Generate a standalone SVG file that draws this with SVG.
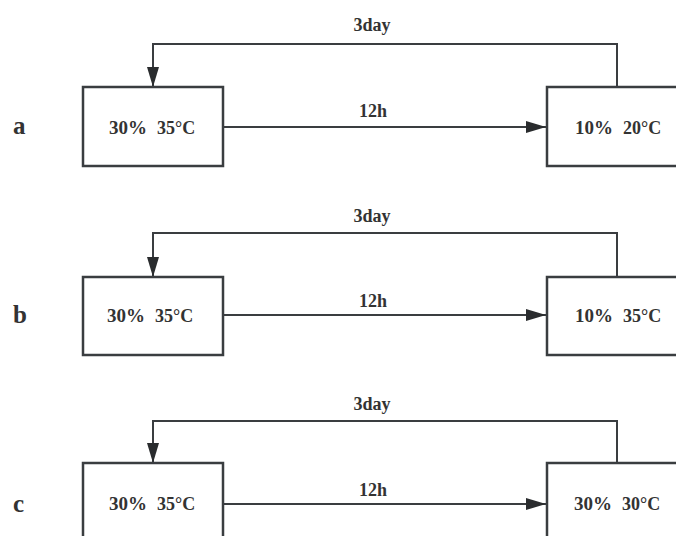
<svg xmlns="http://www.w3.org/2000/svg" width="676" height="536" viewBox="0 0 676 536">
<style>
.box{fill:#fff;stroke:#3a3d40;stroke-width:2.5}
.ln{fill:none;stroke:#3a3d40;stroke-width:2}
.t{font-family:"Liberation Serif","Times New Roman",serif;font-weight:bold;fill:#333}
.big{font-size:19px}
.sm{font-size:18px}
.lbl{font-size:18px;text-anchor:middle}
.row{font-size:25px}
</style>
<defs>
<marker id="ah" viewBox="0 0 20 12" refX="20" refY="6" markerWidth="20" markerHeight="12" markerUnits="userSpaceOnUse" orient="auto">
<path d="M0,0 L20,6 L0,12 Z" fill="#2a2c2e"/>
</marker>
</defs>
<rect width="676" height="536" fill="#fff"/>
<g id="connectors">
<path class="ln" d="M617,87 V44 H153 V87" marker-end="url(#ah)"/>
<path class="ln" d="M224,127 H546" marker-end="url(#ah)"/>
<path class="ln" d="M617,277 V233 H153 V277" marker-end="url(#ah)"/>
<path class="ln" d="M224,315 H546" marker-end="url(#ah)"/>
<path class="ln" d="M617,463 V421 H153 V463" marker-end="url(#ah)"/>
<path class="ln" d="M224,504 H546" marker-end="url(#ah)"/>
</g>
<g id="labels">
<text class="t lbl" x="372" y="31">3day</text>
<text class="t lbl" x="373" y="117">12h</text>
<text class="t lbl" x="372" y="222">3day</text>
<text class="t lbl" x="373" y="307">12h</text>
<text class="t lbl" x="372" y="410">3day</text>
<text class="t lbl" x="373" y="496">12h</text>
<text class="t row" x="13" y="134">a</text>
<text class="t row" x="13" y="323">b</text>
<text class="t row" x="13" y="512">c</text>
</g>
<g id="a1"><rect class="box" x="83" y="87" width="140" height="79"/><text class="t" x="109" y="134"><tspan class="big">30%</tspan><tspan class="sm" dx="10">35°C</tspan></text></g>
<g id="a2"><rect class="box" x="547" y="87" width="140" height="79"/><text class="t" x="575" y="134"><tspan class="big">10%</tspan><tspan class="sm" dx="10">20°C</tspan></text></g>
<g id="b1"><rect class="box" x="83" y="277" width="140" height="78"/><text class="t" x="107" y="322"><tspan class="big">30%</tspan><tspan class="sm" dx="10">35°C</tspan></text></g>
<g id="b2"><rect class="box" x="547" y="277" width="140" height="78"/><text class="t" x="575" y="322"><tspan class="big">10%</tspan><tspan class="sm" dx="10">35°C</tspan></text></g>
<g id="c1"><rect class="box" x="83" y="463" width="140" height="90"/><text class="t" x="109" y="510"><tspan class="big">30%</tspan><tspan class="sm" dx="10">35°C</tspan></text></g>
<g id="c2"><rect class="box" x="547" y="463" width="140" height="90"/><text class="t" x="574" y="510"><tspan class="big">30%</tspan><tspan class="sm" dx="10">30°C</tspan></text></g>
</svg>
